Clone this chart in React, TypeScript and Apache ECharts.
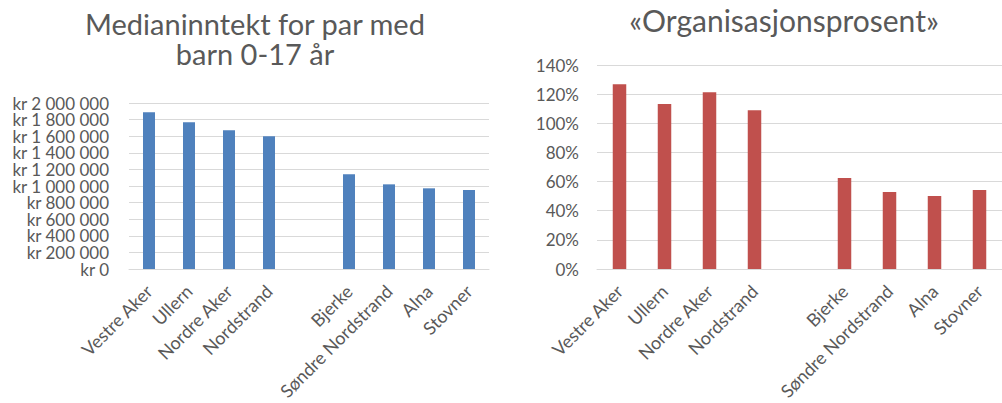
import React, { useEffect, useRef } from "react";
import * as echarts from "echarts";

const categories = [
  "Vestre Aker",
  "Ullern",
  "Nordre Aker",
  "Nordstrand",
  "",
  "Bjerke",
  "Søndre Nordstrand",
  "Alna",
  "Stovner",
];
const incomeValues = [1890000, 1767000, 1671000, 1600000, null, 1141000, 1020000, 972000, 952000];
const orgPercent = [126.8, 113.2, 121.3, 108.9, null, 62.5, 52.8, 50.1, 54.2];
const incomeTitle = "Medianinntekt for par med\nbarn 0-17 år";
const orgTitle = "«Organisasjonsprosent»";
const incomeMax = 2000000;
const incomeStep = 200000;
const orgMax = 140;
const orgStep = 20;

const TEXT = "#595959";
const GRID = "#D9D9D9";
const FONT = "Lato";

const fmtKr = (v: number) =>
  "kr " + String(Math.round(v)).replace(/\B(?=(\d{3})+(?!\d))/g, " ");

export default function App() {
  const ref = useRef<HTMLDivElement>(null);
  useEffect(() => {
    if (!ref.current) return;
    const chart = echarts.init(ref.current, null, { renderer: "svg" });
    const xAxisBase = (gridIndex: number) => ({
      type: "category" as const,
      gridIndex,
      data: categories,
      axisLine: { show: true, lineStyle: { color: GRID, width: 1 } },
      axisTick: { show: false },
      axisLabel: {
        interval: 0,
        rotate: 45,
        margin: 19,
        color: TEXT,
        fontFamily: FONT,
        fontSize: 18,
      },
      splitLine: { show: false },
    });
    const yLabel = {
      color: TEXT,
      fontFamily: FONT,
      fontSize: 17,
      showMinLabel: true,
      showMaxLabel: true,
      hideOverlap: false,
    };
    chart.setOption({
      animation: false,
      backgroundColor: "#ffffff",
      graphic: [
        {
          type: "text",
          x: 255,
          y: 8,
          style: {
            text: incomeTitle,
            fill: TEXT,
            font: `29px ${FONT}`,
            textAlign: "center",
            textVerticalAlign: "top",
            lineHeight: 30,
          },
        },
        {
          type: "text",
          x: 784,
          y: 5,
          style: {
            text: orgTitle,
            fill: TEXT,
            font: `30px ${FONT}`,
            textAlign: "center",
            textVerticalAlign: "top",
          },
        },
      ],
      grid: [
        { left: 129, top: 103, width: 360, height: 166, containLabel: false },
        { left: 597, top: 65, width: 416, height: 204, containLabel: false },
      ],
      xAxis: [xAxisBase(0), xAxisBase(1)],
      yAxis: [
        // even ticks (0, 400 000, ... 2 000 000)
        {
          type: "value",
          gridIndex: 0,
          position: "left",
          offset: 0,
          min: 0,
          max: incomeMax,
          interval: incomeStep * 2,
          axisLine: { show: false },
          axisTick: { show: false },
          axisLabel: { ...yLabel, formatter: fmtKr, margin: 20 },
          splitLine: { show: false },
        },
        // odd ticks (200 000, 600 000, ...) and all grid lines
        {
          type: "value",
          gridIndex: 0,
          position: "left",
          offset: 0,
          min: 0,
          max: incomeMax,
          interval: incomeStep,
          axisLine: { show: false },
          axisTick: { show: false },
          axisLabel: {
            ...yLabel,
            formatter: (v: number) => (v % (incomeStep * 2) === 0 ? "" : fmtKr(v)),
            margin: 20,
          },
          splitLine: { lineStyle: { color: GRID, width: 1 } },
        },
        {
          type: "value",
          gridIndex: 1,
          position: "left",
          min: 0,
          max: orgMax,
          interval: orgStep,
          axisLine: { show: false },
          axisTick: { show: false },
          axisLabel: { ...yLabel, formatter: "{value}%", margin: 18 },
          splitLine: { lineStyle: { color: GRID, width: 1 } },
        },
      ],
      series: [
        {
          type: "bar",
          xAxisIndex: 0,
          yAxisIndex: 0,
          data: incomeValues,
          barWidth: "30%",
          itemStyle: { color: "#4F81BD" },
        },
        {
          type: "bar",
          xAxisIndex: 1,
          yAxisIndex: 2,
          data: orgPercent,
          barWidth: "30%",
          itemStyle: { color: "#C0504D" },
        },
      ],
    });
    return () => chart.dispose();
  }, []);
  return (
    <div
      ref={ref}
      style={{ position: "fixed", left: 0, top: 0, width: 1002, height: 403, background: "#fff" }}
    />
  );
}
